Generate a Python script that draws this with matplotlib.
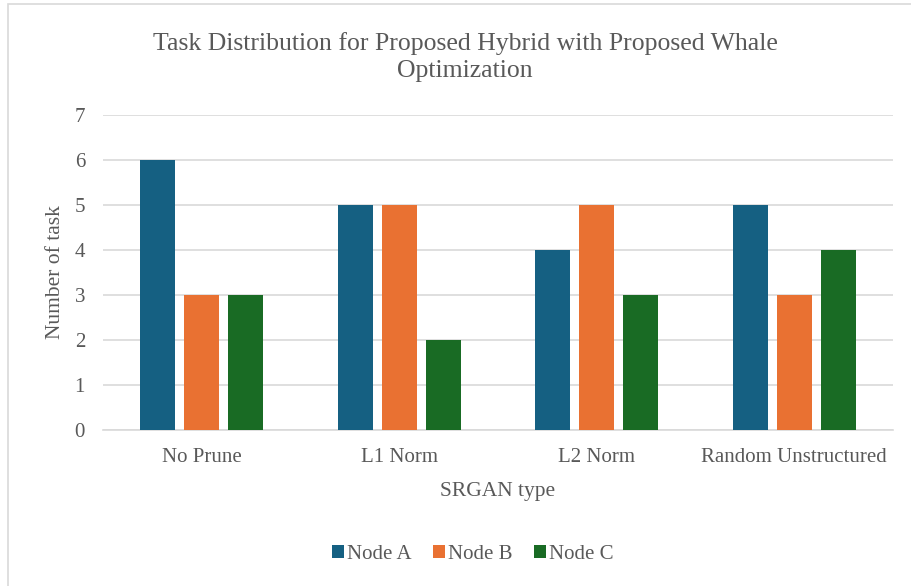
import matplotlib
matplotlib.use("Agg")
import matplotlib.pyplot as plt
import numpy as np
from matplotlib.patches import Rectangle

categories = ['No Prune', 'L1 Norm', 'L2 Norm', 'Random Unstructured']
node_a = [6, 5, 4, 5]
node_b = [3, 5, 5, 3]
node_c = [3, 2, 3, 4]
series = [('Node A', node_a, '#156082'),
          ('Node B', node_b, '#E97132'),
          ('Node C', node_c, '#196B24')]

plt.rcParams['font.family'] = ['Liberation Serif', 'DejaVu Serif']
txt = '#595959'

fig = plt.figure(figsize=(9.12, 5.86), dpi=100)
ax = fig.add_axes([0.113, 0.266, 0.866, 0.538])

# outer chart border (right/bottom edges fall outside the image)
fig.patches.append(Rectangle((8 / 912, -0.1), 1.2, 1 - 4 / 586 + 0.1,
                             transform=fig.transFigure, fill=False,
                             edgecolor='#D9D9D9', linewidth=1.2))

x = np.arange(len(categories))
width = 0.177
offset = 0.223
for i, (name, vals, col) in enumerate(series):
    ax.bar(x + (i - 1) * offset, vals, width, color=col, label=name, zorder=3)

ax.set_xlim(-0.5, len(categories) - 0.5)
ax.set_ylim(0, 7)
ax.set_yticks(range(0, 8))
ax.yaxis.grid(True, color='#D9D9D9', linewidth=1.2, zorder=0)
for s in ['top', 'right', 'left']:
    ax.spines[s].set_visible(False)
ax.spines['bottom'].set_color('#D9D9D9')
ax.spines['bottom'].set_linewidth(1.2)
ax.tick_params(length=0, labelsize=15, colors=txt)
ax.tick_params(axis='y', pad=13)
ax.tick_params(axis='x', pad=13)
ax.set_xticks(x)
ax.set_xticklabels(categories)

ax.set_xlabel('SRGAN type', fontsize=15.5, color=txt, labelpad=11)
ax.set_ylabel('Number of task', fontsize=15.5, color=txt, labelpad=7)
fig.suptitle('Task Distribution for Proposed Hybrid with Proposed Whale\nOptimization',
             fontsize=18.5, color=txt, x=0.51, y=0.945, linespacing=1.3)

ax.legend(loc='center', bbox_to_anchor=(0.468, -0.395), ncol=3, frameon=False,
          fontsize=15, labelcolor=txt, handlelength=0.6, handleheight=0.6,
          handletextpad=0.15, columnspacing=1.0)

fig.savefig('out.png', dpi=100)
